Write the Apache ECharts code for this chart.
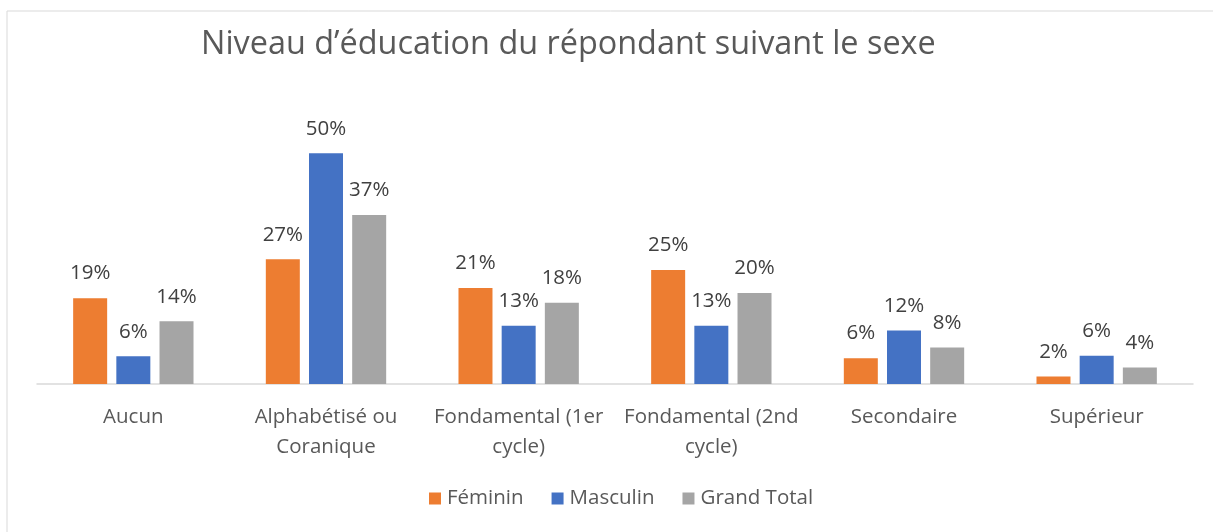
<!DOCTYPE html>
<html>
<head>
<meta charset="utf-8">
<script src="https://cdn.jsdelivr.net/npm/echarts@6/dist/echarts.min.js"></script>
<style>
html,body{margin:0;padding:0;background:#fff;}
#chart{width:1213px;height:532px;}
</style>
</head>
<body>
<div id="chart"></div>
<script>
const categories = ["Aucun", "Alphabétisé ou\nCoranique", "Fondamental (1er\ncycle)", "Fondamental (2nd\ncycle)", "Secondaire", "Supérieur"];
const feminin = [18.6, 27.0, 20.8, 24.7, 5.6, 1.6];
const masculin = [6.0, 50.0, 12.6, 12.6, 11.6, 6.1];
const grandTotal = [13.6, 36.6, 17.6, 19.7, 7.9, 3.6];
const seriesNames = ["Féminin", "Masculin", "Grand Total"];
const colors = ["#ED7D31", "#4472C4", "#A5A5A5"];

const FONT = "'Open Sans', 'DejaVu Sans', sans-serif";
const chart = echarts.init(document.getElementById('chart'));

const labelCfg = {
  show: true,
  position: 'top',
  distance: 14,
  fontFamily: FONT,
  fontSize: 20.5,
  color: '#404040',
  formatter: p => Math.round(p.value) + '%'
};

function mk(name, data, color) {
  return {
    name: name,
    type: 'bar',
    data: data,
    barWidth: 34,
    barGap: '27%',
    itemStyle: { color: color },
    label: labelCfg,
    emphasis: { disabled: true }
  };
}

chart.setOption({
  animation: false,
  backgroundColor: '#fff',
  graphic: [{
    type: 'rect',
    shape: { x: 7, y: 11, width: 1300, height: 600 },
    style: { fill: 'none', stroke: '#d9d9d9', lineWidth: 1 },
    silent: true
  }],
  title: {
    text: 'Niveau d’éducation du répondant suivant le sexe',
    left: 196,
    top: 24,
    textStyle: { fontFamily: FONT, fontSize: 32.4, fontWeight: 'normal', color: '#595959' }
  },
  legend: {
    data: seriesNames,
    bottom: 18,
    left: 424,
    itemWidth: 12,
    itemHeight: 12,
    itemGap: 28,
    icon: 'rect',
    textStyle: { fontFamily: FONT, fontSize: 20.5, color: '#595959', padding: [0, 0, 0, 1] }
  },
  grid: { left: 37, right: 20, top: 107, bottom: 148, containLabel: false },
  xAxis: {
    type: 'category',
    data: categories,
    axisLine: { lineStyle: { color: '#d9d9d9', width: 1.5 } },
    axisTick: { show: false },
    axisLabel: {
      fontFamily: FONT, fontSize: 20.5, color: '#595959',
      lineHeight: 30, margin: 18, interval: 0
    }
  },
  yAxis: {
    type: 'value',
    min: 0,
    max: 60,
    show: false,
    splitLine: { show: false }
  },
  series: [
    mk(seriesNames[0], feminin, colors[0]),
    mk(seriesNames[1], masculin, colors[1]),
    mk(seriesNames[2], grandTotal, colors[2])
  ]
});
</script>
</body>
</html>
